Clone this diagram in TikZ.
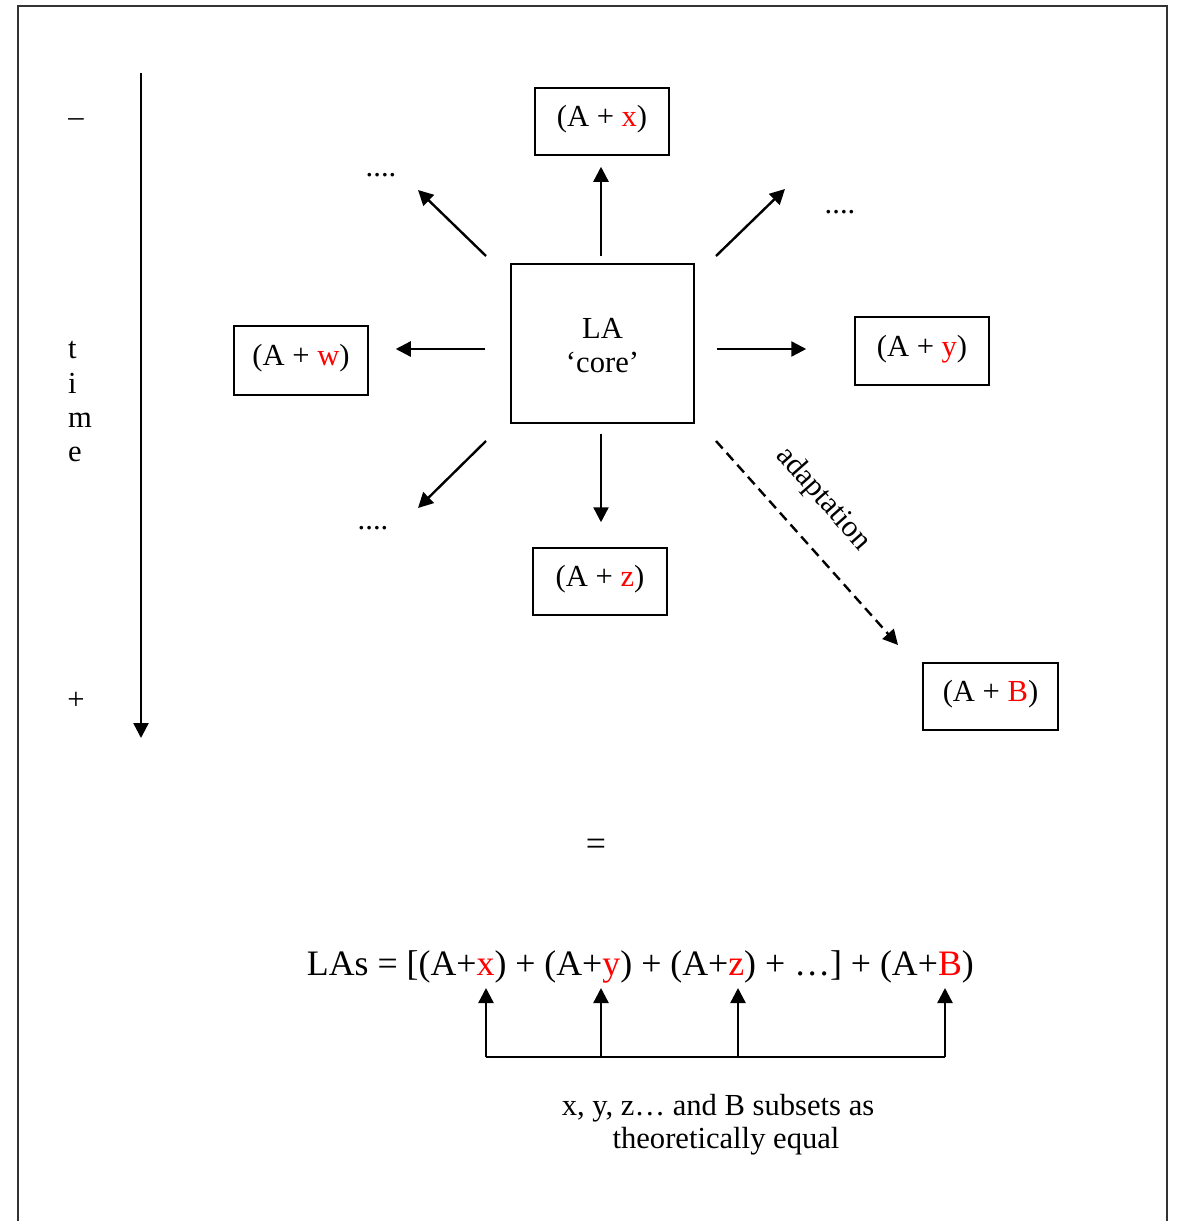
\documentclass[tikz,border=0pt]{standalone}
\usepackage{fontspec}
\setmainfont{Liberation Serif}
\usetikzlibrary{arrows.meta}
\begin{document}
\begin{tikzpicture}[x=1pt,y=-1pt,
  every node/.style={font=\fontsize{30.6}{34}\selectfont, inner sep=0pt},
  box/.style={draw, line width=1.5pt, minimum width=134pt, minimum height=67pt,
              text height=20.7pt, text depth=10.3pt},
  arr/.style={line width=2.4pt, -{Triangle[length=15pt,width=15pt]}},
  dasharr/.style={arr, dash pattern=on 10pt off 6pt},
  big/.style={font=\fontsize{35.8}{40}\selectfont}
]
\useasboundingbox (0,0) rectangle (1176,1221);
% frame
\draw[line width=2pt, black!80] (17.5,1221) -- (17.5,5.5) -- (1166.5,5.5) -- (1166.5,1221);

% time axis
\coordinate (tTop) at (141,73);
\coordinate (tBot) at (141,738);
\draw[arr] (tTop) -- (tBot);
\node[anchor=base] (minus) at (76,126.5) {–};
\node[anchor=base] (plus) at (76,709.6) {+};
\node[anchor=base west] (lt) at (68,358) {t};
\node[anchor=base west] (li) at (68,393) {i};
\node[anchor=base west] (lm) at (68,427) {m};
\node[anchor=base west] (le) at (68,461) {e};

% boxes
\node[draw, line width=1.5pt, minimum width=183pt, minimum height=159pt, align=center,
      text height=60.7pt, text depth=3pt] (core) at (602.5,343.5) {LA\\‘core’};
\node[box] (bx) at (602,121.5) {(A + \textcolor{red}{x})};
\node[box, minimum height=69pt] (bw) at (301,360.5) {(A + \textcolor{red}{w})};
\node[box, minimum height=68pt] (by) at (922,351) {(A + \textcolor{red}{y})};
\node[box] (bz) at (600,581.5) {(A + \textcolor{red}{z})};
\node[box, minimum width=135pt] (bB) at (990.5,696.5) {(A + \textcolor{red}{B})};

% dots
\node[anchor=base] (dNW) at (381,176) {....};
\node[anchor=base] (dNE) at (840,213) {....};
\node[anchor=base] (dSW) at (373,529) {....};

% arrows from core
\coordinate (ax) at (601,0);
\coordinate (hy) at (0,349);
\draw[arr, shorten <=7pt, shorten >=11pt] (core.north -| ax) -- (bx.south -| ax);
\draw[arr, shorten <=10pt, shorten >=25pt] (core.south -| ax) -- (bz.north -| ax);
\draw[arr, shorten <=25pt, shorten >=27pt] (core.west |- hy) -- (bw.east |- hy);
\draw[arr, shorten <=22pt, shorten >=48pt] (core.east |- hy) -- (by.west |- hy);

\coordinate (nwS) at (486,256);
\coordinate (nwE) at (418,190);
\coordinate (neS) at (716,256);
\coordinate (neE) at (785,189);
\coordinate (swS) at (486,441);
\coordinate (swE) at (418,508);
\coordinate (seS) at (716,441);
\coordinate (seE) at (898,645);
\draw[arr] (nwS) -- (nwE);
\draw[arr] (neS) -- (neE);
\draw[arr] (swS) -- (swE);
\draw[dasharr] (seS) -- (seE);
\node[rotate=-48.5] (adapt) at (823,499) {adaptation};

% equation
\node[big, anchor=base] (eqsign) at (596,855) {=};
\node[big, anchor=base] (eq) at (640.4,975)
  {LAs = [(A+\textcolor{red}{x}) + (A+\textcolor{red}{y}) + (A+\textcolor{red}{z}) + …] + (A+\textcolor{red}{B})};

\coordinate (b1) at (486,1057);
\coordinate (b2) at (601,1057);
\coordinate (b3) at (738,1057);
\coordinate (b4) at (945,1057);
\draw[line width=2.4pt] (b1) -- (b4);
\foreach \b in {b1,b2,b3,b4}{
  \draw[arr] (\b) -- (\b |- 0,988);
}
\node[anchor=base] (sub1) at (718,1115) {x, y, z… and B subsets as};
\node[anchor=base] (sub2) at (726,1148) {theoretically equal};
\end{tikzpicture}
\end{document}
